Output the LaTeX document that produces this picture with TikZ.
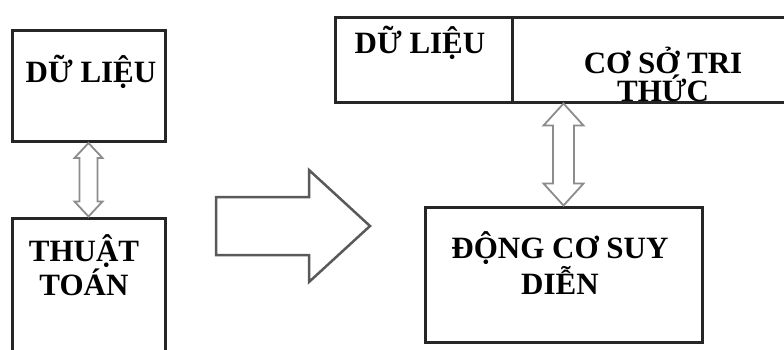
\documentclass[tikz,border=0pt]{standalone}
\usepackage{fontspec}
\setmainfont{Liberation Serif}
\usetikzlibrary{calc}
\newcommand\hollowdbl[5]{%
  \draw[hollow] let \p1=(#1.south), \p2=(#2.north) in
    (\x2,\y1) -- ({\x2+#3pt},{\y1-#5pt}) -- ({\x2+#4pt},{\y1-#5pt})
    -- ({\x2+#4pt},{\y2+#5pt}) -- ({\x2+#3pt},{\y2+#5pt}) -- (\x2,\y2)
    -- ({\x2-#3pt},{\y2+#5pt}) -- ({\x2-#4pt},{\y2+#5pt})
    -- ({\x2-#4pt},{\y1-#5pt}) -- ({\x2-#3pt},{\y1-#5pt}) -- cycle;}
\begin{document}
\begin{tikzpicture}[x=1pt,y=-1pt,
  box/.style={draw=black!85, line width=3pt, inner sep=0pt},
  lbl/.style={font=\fontsize{31}{28}\selectfont\bfseries, align=center, inner sep=0pt},
  hollow/.style={draw=black!45, line width=1.8pt, fill=white, line join=miter},
  bigarrow/.style={draw=black!65, line width=2.5pt, fill=white, line join=miter}]
\useasboundingbox (0,0) rectangle (784,349);
% left side
\node[box, minimum width=153pt, minimum height=111pt] (dl) at (88.5,86) {};
\node[box, minimum width=153pt, minimum height=162pt] (ta) at (88.5,299) {};
\node[lbl, anchor=base] (tdl) at (91,82) {DỮ LIỆU};
\node[lbl] (tta) at (84,265) {THUẬT\\TOÁN};
\hollowdbl{dl}{ta}{14}{9}{15}
% big arrow
\draw[bigarrow] (216,197) -- (309,197) -- (309,170) -- (370,226) -- (309,282)
  -- (309,255) -- (216,255) -- cycle;
% right side
\node[box, minimum width=177pt, minimum height=85pt] (dl2) at (423.5,59.5) {};
\node[box, minimum width=300pt, minimum height=85pt] (cs) at (662,59.5) {};
\node[box, minimum width=277pt, minimum height=135pt] (dc) at (563.5,274.5) {};
\node[lbl, anchor=base] (tdl2) at (420,53) {DỮ LIỆU};
\node[lbl] (tcs) at (663,74) {CƠ SỞ TRI\\THỨC};
\node[lbl] (tdc) at (560,263) {ĐỘNG CƠ SUY\\DIỄN};
\hollowdbl{cs}{dc}{20}{10.5}{22}
\end{tikzpicture}
\end{document}
